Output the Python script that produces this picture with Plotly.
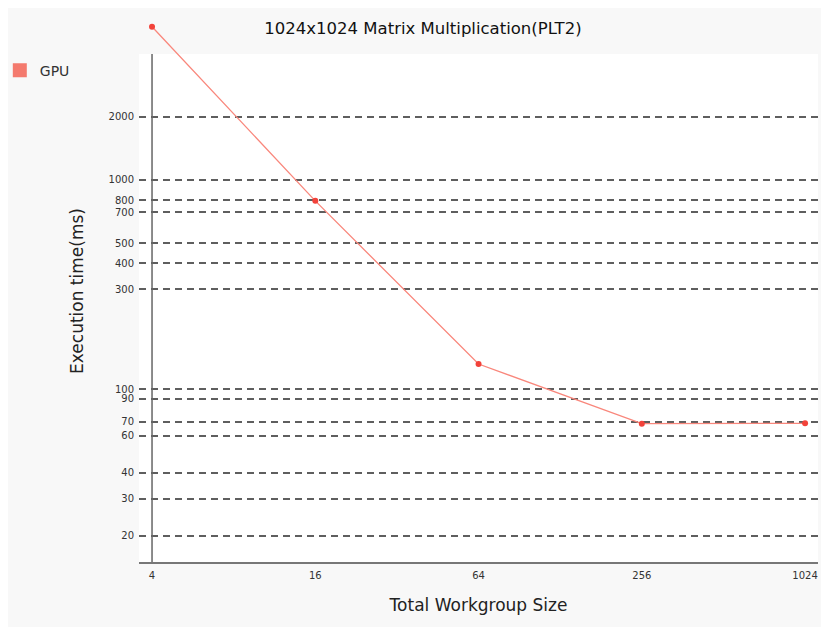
import plotly.graph_objects as go

# Data
workgroup_sizes = [4, 16, 64, 256, 1024]
gpu_times_ms = [5400, 795, 132, 68.5, 68.8]
series_name = "GPU"
x_tick_vals = [4, 16, 64, 256, 1024]
x_tick_text = ["4", "16", "64", "256", "1024"]
y_tick_vals = [20, 30, 40, 60, 70, 90, 100, 300, 400, 500, 700, 800, 1000, 2000]
y_tick_text = [str(v) for v in y_tick_vals]

title_text = "1024x1024 Matrix Multiplication(PLT2)"
x_title = "Total Workgroup Size"
y_title = "Execution time(ms)"

W, H = 820, 619
L, R, T, B = 131, 10, 12, 65
font_family = "DejaVu Sans"
panel_top = 0.9373  # fraction of plot height covered by the white panel

fig = go.Figure()
fig.add_trace(go.Scatter(
    x=workgroup_sizes, y=gpu_times_ms, mode="lines+markers",
    line=dict(color="#f9877c", width=1.3),
    marker=dict(color="#f2423a", size=6),
    cliponaxis=False, showlegend=False, name=series_name,
))
fig.add_trace(go.Scatter(
    x=[None], y=[None], mode="markers", name=series_name,
    marker=dict(symbol="square", color="#f47a6e", size=14),
    showlegend=True,
))

shapes = [
    dict(type="rect", xref="paper", yref="paper", x0=0, x1=1,
         y0=0, y1=panel_top, fillcolor="white", line=dict(width=0), layer="below"),
    dict(type="line", xref="x", yref="paper", x0=workgroup_sizes[0], x1=workgroup_sizes[0],
         y0=0, y1=panel_top, line=dict(color="#666", width=1.5), layer="above"),
]

fig.update_layout(
    width=W, height=H,
    margin=dict(l=L, r=R, t=T, b=B, autoexpand=False),
    paper_bgcolor="#f8f8f8",
    plot_bgcolor="rgba(0,0,0,0)",
    font=dict(family=font_family, color="#222"),
    title=dict(text=title_text, x=415 / W, xref="container", xanchor="center",
               y=1 - 20 / H, yref="container", yanchor="middle",
               font=dict(size=16.5, color="#111")),
    shapes=shapes,
    legend=dict(x=-0.205, xanchor="left", y=0.936, yanchor="top",
                bgcolor="rgba(0,0,0,0)", font=dict(size=14, color="#333"),
                itemwidth=30),
    xaxis=dict(
        type="log", range=[0.554, 3.058], automargin=False,
        tickvals=x_tick_vals, ticktext=x_tick_text,
        tickfont=dict(size=10, color="#333"),
        showgrid=False, zeroline=False,
        showline=True, linecolor="#777", linewidth=1.5,
        ticks="outside", ticklen=3, tickcolor="rgba(0,0,0,0)",
        title=dict(text=x_title, font=dict(size=17, color="#222"), standoff=19),
    ),
    yaxis=dict(
        type="log", range=[1.1749, 3.7644], automargin=False,
        tickvals=y_tick_vals, ticktext=y_tick_text,
        tickfont=dict(size=10, color="#333"),
        showgrid=True, gridcolor="#5e5e5e", gridwidth=1.5, griddash="7px,5px",
        zeroline=False, showline=False,
        ticks="outside", ticklen=2, tickcolor="rgba(0,0,0,0)",
        title=dict(text=y_title, font=dict(size=17, color="#222"), standoff=20),
    ),
)

fig.write_html("out.html")
